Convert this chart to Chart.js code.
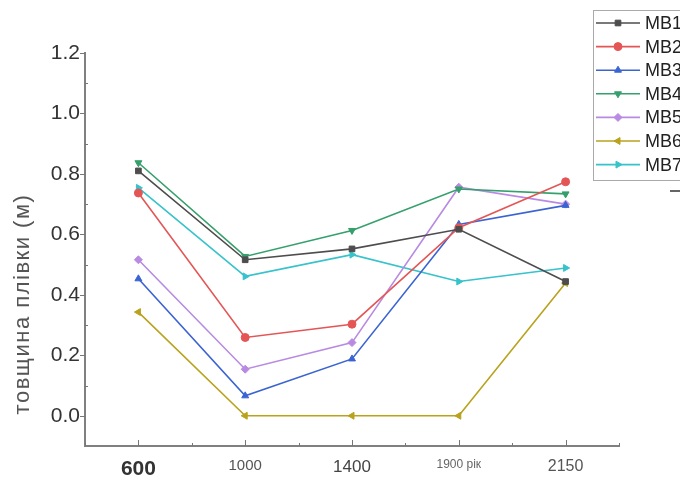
<!DOCTYPE html>
<html>
<head>
<meta charset="utf-8">
<script src="https://cdn.jsdelivr.net/npm/chart.js@4.4.1/dist/chart.umd.min.js"></script>
<style>
  html, body { margin: 0; padding: 0; background: #fff; }
</style>
</head>
<body>
<canvas id="chart" width="680" height="491"></canvas>
<script>
// --- data ---
const categories = ['600', '1000', '1400', '1900 рік', '2150'];
const seriesNames = ['MB1', 'MB2', 'MB3', 'MB4', 'MB5', 'MB6', 'MB7'];
const mb1 = [0.81, 0.516, 0.552, 0.617, 0.444];
const mb2 = [0.737, 0.259, 0.303, 0.622, 0.774];
const mb3 = [0.453, 0.066, 0.188, 0.633, 0.696];
const mb4 = [0.837, 0.527, 0.613, 0.750, 0.734];
const mb5 = [0.516, 0.154, 0.242, 0.756, 0.700];
const mb6 = [0.343, 0.0, 0.0, 0.0, 0.439];
const mb7 = [0.754, 0.461, 0.533, 0.444, 0.489];
const yTicks = [0.0, 0.2, 0.4, 0.6, 0.8, 1.0, 1.2];
const yTitle = 'товщина плівки (м)';

// look of each series
const colors = ['#4d4d4d', '#e45656', '#3b64d2', '#35a06c', '#b88ae2', '#b9a21c', '#36c3cb'];
const markers = [
    { style: 'rect', rot: 0 },
    { style: 'circle', rot: 0 },
    { style: 'triangle', rot: 0 },
    { style: 'triangle', rot: 180 },
    { style: 'rectRot', rot: 0 },
    { style: 'triangle', rot: -90 },
    { style: 'triangle', rot: 90 }
];
// the x labels in the picture come in odd sizes
const xLabelFonts = [
    { family: 'Liberation Sans', size: 21, weight: 'bold' },
    { family: 'Liberation Sans', size: 15 },
    { family: 'Liberation Sans', size: 17 },
    { family: 'Liberation Sans', size: 12 },
    { family: 'Liberation Sans', size: 16 }
];
const xLabelColors = ['#333', '#555', '#444', '#666', '#555'];

const allSeries = [mb1, mb2, mb3, mb4, mb5, mb6, mb7];

const datasets = allSeries.map((vals, i) => ({
    label: seriesNames[i],
    data: vals,
    borderColor: colors[i],
    backgroundColor: colors[i],
    borderWidth: 1.6,
    pointStyle: markers[i].style,
    pointRotation: markers[i].rot,
    pointRadius: 4,
    pointBorderWidth: 1,
    tension: 0
}));

// tick marks, y title and boxed legend, Origin style
const decorPlugin = {
    id: 'decor',
    afterDraw(chart) {
        const ctx = chart.ctx;
        const xs = chart.scales.x, ys = chart.scales.y;
        const area = chart.chartArea;
        ctx.save();
        ctx.strokeStyle = '#777';
        ctx.lineWidth = 1;

        // x ticks, pointing into the plot
        const n = categories.length;
        const step = (area.right - area.left) / n;
        for (let i = 0; i < n; i++) {
            const px = Math.round(xs.getPixelForValue(i)) + 0.5;
            ctx.beginPath(); ctx.moveTo(px, area.bottom); ctx.lineTo(px, area.bottom - 6); ctx.stroke();
        }
        for (let i = 0; i <= n; i++) {
            const px = Math.round(area.left + i * step) + 0.5;
            ctx.beginPath(); ctx.moveTo(px, area.bottom); ctx.lineTo(px, area.bottom - 3); ctx.stroke();
        }
        // y ticks
        yTicks.forEach(v => {
            const py = Math.round(ys.getPixelForValue(v)) + 0.5;
            ctx.beginPath(); ctx.moveTo(area.left, py); ctx.lineTo(area.left - 5, py); ctx.stroke();
            if (v < 1.2) {
                const pm = Math.round(ys.getPixelForValue(v + 0.1)) + 0.5;
                ctx.beginPath(); ctx.moveTo(area.left, pm); ctx.lineTo(area.left + 3, pm); ctx.stroke();
            }
        });

        // y title (sits lower than the axis middle in the picture)
        ctx.save();
        ctx.translate(23, 304);
        ctx.rotate(-Math.PI / 2);
        ctx.fillStyle = '#555';
        ctx.font = '22px "Liberation Sans"';
        if ('letterSpacing' in ctx) ctx.letterSpacing = '1.5px';
        ctx.textAlign = 'center';
        ctx.textBaseline = 'middle';
        ctx.fillText(yTitle, 0, 0);
        ctx.restore();

        // legend box
        const lx = 593, ly = 10, lh = 170;
        ctx.strokeStyle = '#aaa';
        ctx.lineWidth = 1;
        ctx.strokeRect(lx + 0.5, ly + 0.5, 120, lh);
        chart.data.datasets.forEach((ds, i) => {
            const y = 23 + i * 23.6;
            ctx.strokeStyle = ds.borderColor;
            ctx.lineWidth = 1.6;
            ctx.beginPath(); ctx.moveTo(596, y); ctx.lineTo(640, y); ctx.stroke();
            ctx.fillStyle = ds.backgroundColor;
            ctx.lineWidth = 1;
            Chart.helpers.drawPoint(ctx, {
                pointStyle: ds.pointStyle, rotation: ds.pointRotation, radius: 4, borderWidth: 1
            }, 618, y);
            ctx.fillStyle = '#222';
            ctx.font = '18px "Liberation Sans"';
            ctx.textBaseline = 'middle';
            ctx.textAlign = 'left';
            ctx.fillText(ds.label, 645, y + 1);
        });
        // stray dash under the legend
        ctx.strokeStyle = '#333';
        ctx.lineWidth = 1.5;
        ctx.beginPath(); ctx.moveTo(670, 191); ctx.lineTo(680, 191); ctx.stroke();
        ctx.restore();
    }
};

new Chart(document.getElementById('chart'), {
    type: 'line',
    data: { labels: categories, datasets: datasets },
    plugins: [decorPlugin],
    options: {
        responsive: false,
        animation: false,
        layout: { padding: { top: 53, right: 61, left: 0, bottom: 0 } },
        plugins: {
            legend: { display: false },
            tooltip: { enabled: false }
        },
        scales: {
            x: {
                type: 'category',
                offset: true,
                grid: { display: false, drawTicks: false },
                border: { display: true, color: '#808080', width: 2 },
                ticks: {
                    padding: 11,
                    font: ctx => xLabelFonts[ctx.index],
                    color: ctx => xLabelColors[ctx.index],
                    maxRotation: 0,
                    autoSkip: false
                },
                afterFit(scale) { scale.height = 45; }
            },
            y: {
                min: -0.1,
                max: 1.2,
                grid: { display: false, drawTicks: false },
                border: { display: true, color: '#808080', width: 2 },
                ticks: {
                    stepSize: 0.1,
                    padding: 5,
                    color: '#333',
                    font: { family: 'Liberation Sans', size: 21 },
                    callback: v => {
                        const k = Math.round(v * 10);
                        return (k >= 0 && k % 2 === 0) ? (k / 10).toFixed(1) : '';
                    }
                },
                afterFit(scale) { scale.width = 85; }
            }
        }
    }
});
</script>
</body>
</html>
